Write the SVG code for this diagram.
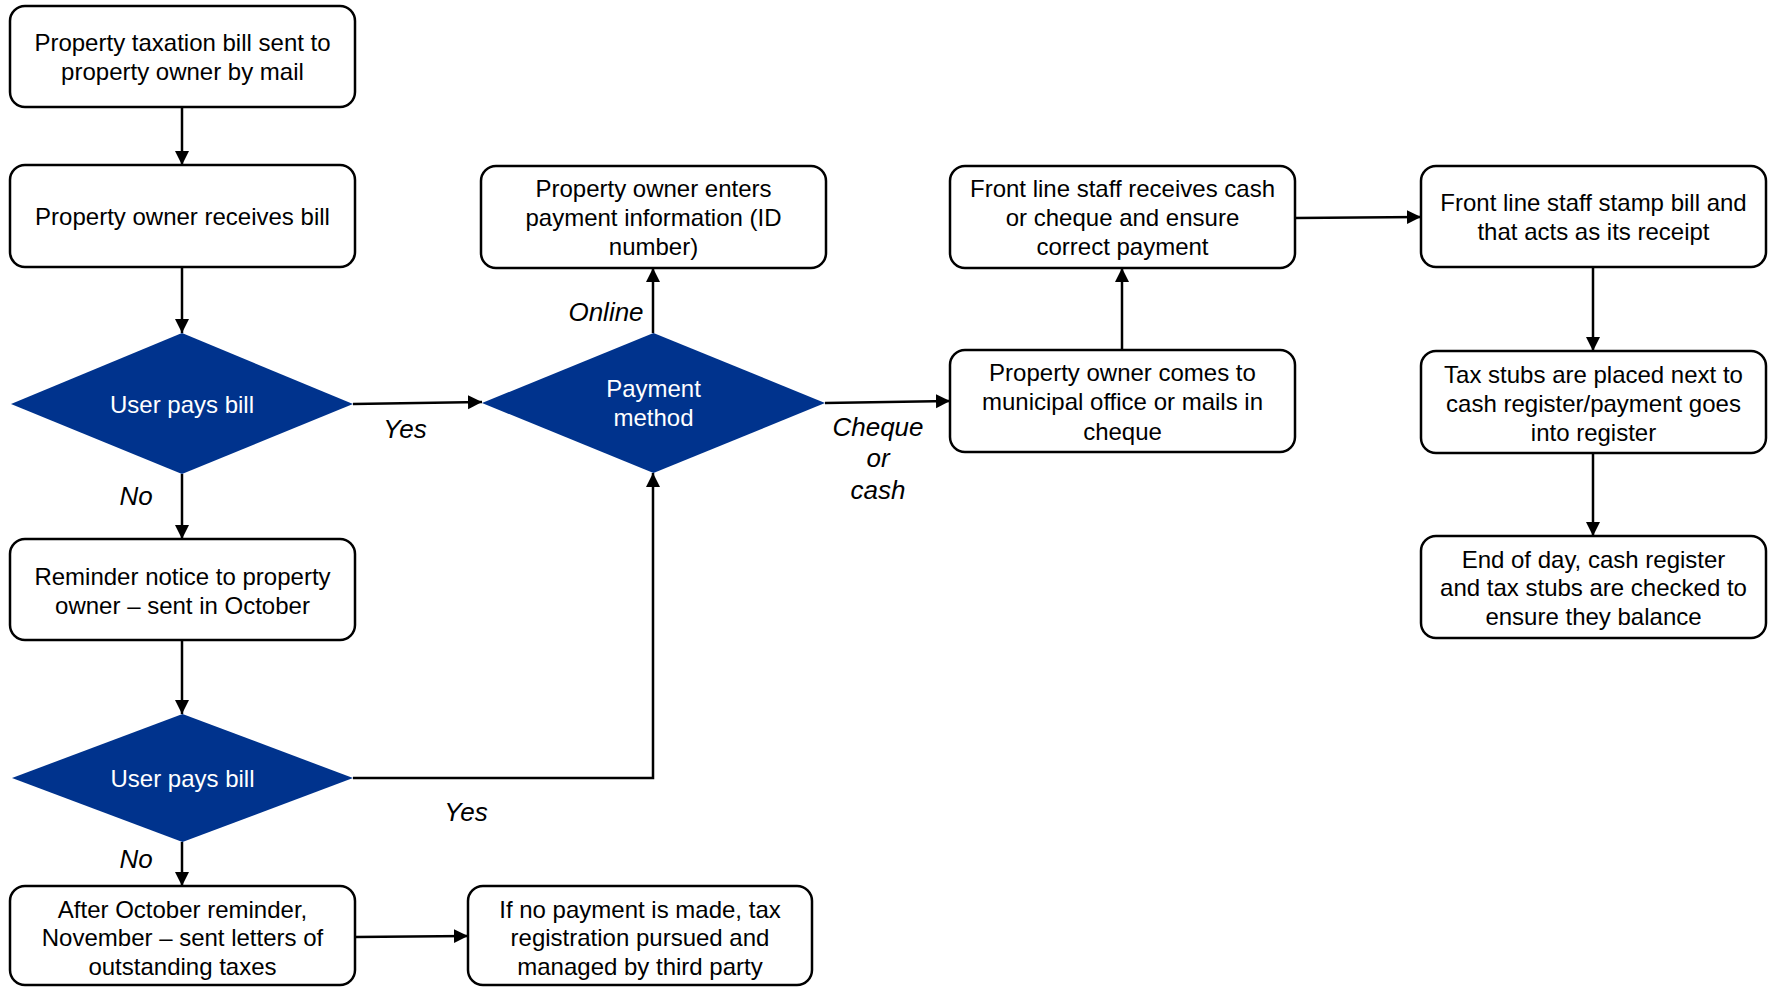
<svg xmlns="http://www.w3.org/2000/svg" width="1773" height="987" viewBox="0 0 1773 987">
<style>
.box{fill:#ffffff;stroke:#000000;stroke-width:2.5}
.dia{fill:#00338D;stroke:none}
.t{font-family:"Liberation Sans",Arial,sans-serif;font-size:24px;fill:#000000;text-anchor:middle}
.w{fill:#ffffff}
.lbl{font-family:"Liberation Sans",Arial,sans-serif;font-size:26px;font-style:italic;fill:#000000;text-anchor:middle}
.c{fill:none;stroke:#000000;stroke-width:2.5;marker-end:url(#ah)}
</style>
<defs>
<marker id="ah" markerUnits="userSpaceOnUse" markerWidth="15" markerHeight="15" refX="14" refY="7" orient="auto">
<path d="M0,0 L14,7 L0,14 z" fill="#000000"/>
</marker>
</defs>
<rect width="1773" height="987" fill="#ffffff"/>
<g id="connectors">
<path class="c" d="M182,107 V165"/>
<path class="c" d="M182,267 V333"/>
<path class="c" d="M353,404 L482,402"/>
<path class="c" d="M182,474 V539"/>
<path class="c" d="M182,640 V714"/>
<path class="c" d="M353,778 H653 V473"/>
<path class="c" d="M182,842 V886"/>
<path class="c" d="M355,937 L468,936"/>
<path class="c" d="M653,333 V268"/>
<path class="c" d="M825,403 L950,401"/>
<path class="c" d="M1122,350 V268"/>
<path class="c" d="M1295,218 L1421,217"/>
<path class="c" d="M1593,267 V351"/>
<path class="c" d="M1593,453 V536"/>
</g>
<g id="labels">
<text class="lbl" x="405" y="438">Yes</text>
<text class="lbl" x="136" y="505">No</text>
<text class="lbl" x="606" y="321">Online</text>
<text class="lbl" x="878" y="436">Cheque</text>
<text class="lbl" x="878" y="467">or</text>
<text class="lbl" x="878" y="499">cash</text>
<text class="lbl" x="466" y="821">Yes</text>
<text class="lbl" x="136" y="868">No</text>
</g>
<g id="n1">
<rect class="box" x="10" y="6" width="345" height="101" rx="15"/>
<text class="t" x="182.5" y="51">Property taxation bill sent to</text>
<text class="t" x="182.5" y="80">property owner by mail</text>
</g>
<g id="n2">
<rect class="box" x="10" y="165" width="345" height="102" rx="15"/>
<text class="t" x="182.5" y="225">Property owner receives bill</text>
</g>
<g id="d1">
<polygon class="dia" points="182,333 353,404 182,474 11,404"/>
<text class="t w" x="182" y="413">User pays bill</text>
</g>
<g id="n3">
<rect class="box" x="10" y="539" width="345" height="101" rx="15"/>
<text class="t" x="182.5" y="585">Reminder notice to property</text>
<text class="t" x="182.5" y="614">owner – sent in October</text>
</g>
<g id="d2">
<polygon class="dia" points="182.5,714 353,778 182.5,842 12,778"/>
<text class="t w" x="182.5" y="787">User pays bill</text>
</g>
<g id="n4">
<rect class="box" x="10" y="886" width="345" height="99" rx="15"/>
<text class="t" x="182.5" y="918">After October reminder,</text>
<text class="t" x="182.5" y="946">November – sent letters of</text>
<text class="t" x="182.5" y="975">outstanding taxes</text>
</g>
<g id="n5">
<rect class="box" x="468" y="886" width="344" height="99" rx="15"/>
<text class="t" x="640" y="918">If no payment is made, tax</text>
<text class="t" x="640" y="946">registration pursued and</text>
<text class="t" x="640" y="975">managed by third party</text>
</g>
<g id="d3">
<polygon class="dia" points="653.5,333 825,403 653.5,473 482,403"/>
<text class="t w" x="653.5" y="397">Payment</text>
<text class="t w" x="653.5" y="426">method</text>
</g>
<g id="n6">
<rect class="box" x="481" y="166" width="345" height="102" rx="15"/>
<text class="t" x="653.5" y="197">Property owner enters</text>
<text class="t" x="653.5" y="226">payment information (ID</text>
<text class="t" x="653.5" y="255">number)</text>
</g>
<g id="n7">
<rect class="box" x="950" y="166" width="345" height="102" rx="15"/>
<text class="t" x="1122.5" y="197">Front line staff receives cash</text>
<text class="t" x="1122.5" y="226">or cheque and ensure</text>
<text class="t" x="1122.5" y="255">correct payment</text>
</g>
<g id="n8">
<rect class="box" x="950" y="350" width="345" height="102" rx="15"/>
<text class="t" x="1122.5" y="381">Property owner comes to</text>
<text class="t" x="1122.5" y="410">municipal office or mails in</text>
<text class="t" x="1122.5" y="440">cheque</text>
</g>
<g id="n9">
<rect class="box" x="1421" y="166" width="345" height="101" rx="15"/>
<text class="t" x="1593.5" y="211">Front line staff stamp bill and</text>
<text class="t" x="1593.5" y="240">that acts as its receipt</text>
</g>
<g id="n10">
<rect class="box" x="1421" y="351" width="345" height="102" rx="15"/>
<text class="t" x="1593.5" y="383">Tax stubs are placed next to</text>
<text class="t" x="1593.5" y="412">cash register/payment goes</text>
<text class="t" x="1593.5" y="441">into register</text>
</g>
<g id="n11">
<rect class="box" x="1421" y="536" width="345" height="102" rx="15"/>
<text class="t" x="1593.5" y="568">End of day, cash register</text>
<text class="t" x="1593.5" y="596">and tax stubs are checked to</text>
<text class="t" x="1593.5" y="625">ensure they balance</text>
</g>
</svg>
